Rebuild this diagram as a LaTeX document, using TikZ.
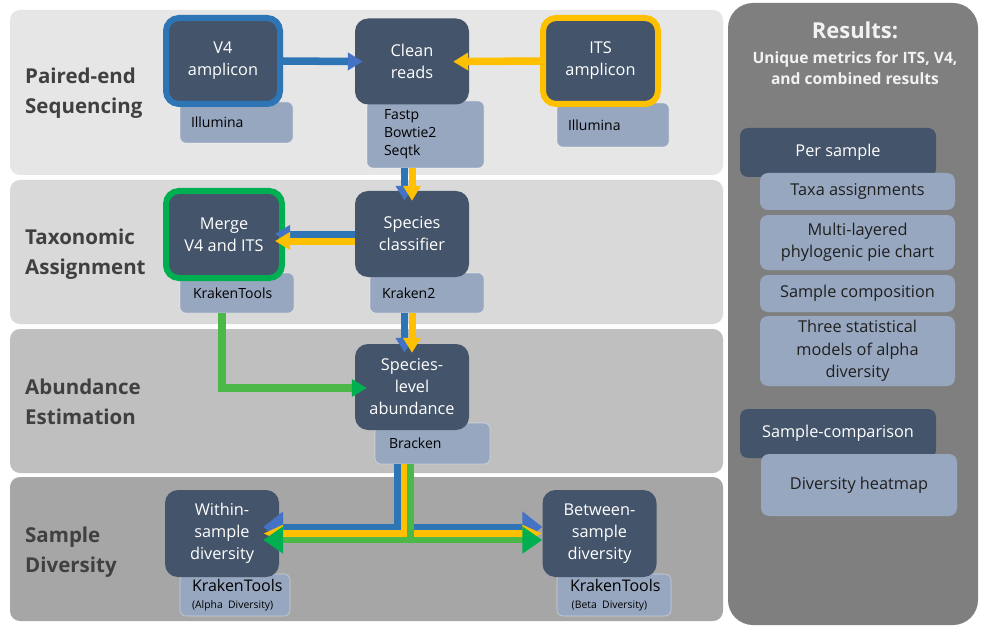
\documentclass[tikz,border=0pt]{standalone}
\usepackage{fontspec}
\setmainfont{Open Sans}
\usetikzlibrary{arrows.meta,calc}
\definecolor{nodedark}{HTML}{44546A}
\definecolor{toolbox}{HTML}{97A7BF}
\definecolor{bandA}{HTML}{E6E6E6}
\definecolor{bandB}{HTML}{D9D9D9}
\definecolor{bandC}{HTML}{BFBFBF}
\definecolor{bandD}{HTML}{A6A6A6}
\definecolor{cblue}{HTML}{2E75B6}
\definecolor{cbluehead}{HTML}{4472C4}
\definecolor{cyellow}{HTML}{FFC000}
\definecolor{cgreen}{HTML}{00B050}
\definecolor{cgreenline}{HTML}{4CB848}
\definecolor{panelgray}{HTML}{7F7F7F}
\definecolor{labeltext}{HTML}{404040}
\definecolor{titletext}{HTML}{F2F2F2}
\definecolor{boxtext}{HTML}{1F1F1F}
\begin{document}
\begin{tikzpicture}[x=1pt,y=-1pt,line join=miter,
  band/.style={fill=#1,draw=none,rounded corners=10pt},
  stage/.style={anchor=west,align=left,font=\bfseries\fontsize{20.5}{30}\selectfont,text=labeltext,inner sep=0pt},
  proc/.style={fill=nodedark,rounded corners=13pt,text=white,align=center,font=\fontsize{16.3}{22}\selectfont,inner sep=0pt,minimum width=114pt,minimum height=86pt},
  tool/.style={fill=toolbox,draw=white,draw opacity=0.45,line width=0.6pt,rounded corners=6pt,align=left,font=\fontsize{14}{18}\selectfont,inner ysep=0pt,text=black},
  resdark/.style={fill=nodedark,rounded corners=8pt,text=white,align=center,font=\fontsize{16.3}{22.5}\selectfont,inner sep=0pt,minimum width=196pt},
  reslight/.style={fill=toolbox,rounded corners=8pt,text=boxtext,align=center,font=\fontsize{16.3}{22.5}\selectfont,inner sep=0pt,minimum width=195pt},
  ablue/.style={draw=cblue,line width=7.5pt,-{Triangle[length=15pt,width=17pt,color=cbluehead]}},
  ayellow/.style={draw=cyellow,line width=7.5pt,-{Triangle[length=15pt,width=17pt,color=cyellow]}},
  agreen/.style={draw=cgreenline,line width=7.5pt,-{Triangle[length=15pt,width=17pt,color=cgreen]}},
  tblue/.style={draw=cblue,line width=6.5pt,-{Triangle[length=20pt,width=30pt,color=cbluehead]}},
  tyellow/.style={draw=cyellow,line width=6.5pt,-{Triangle[length=20pt,width=16pt,color=cyellow]}},
  tgreen/.style={draw=cgreenline,line width=6.5pt,-{Triangle[length=20pt,width=26pt,color=cgreen]}}
]
\useasboundingbox (0,0) rectangle (990,631);
\fill[white] (0,0) rectangle (990,631);

% bands
\path[band=bandA] (10,10) rectangle (723,175);
\path[band=bandB] (10,180) rectangle (723,324);
\path[band=bandC] (10,329) rectangle (723,473);
\path[band=bandD] (10,477) rectangle (723,621);

\node[stage] (lab1) at (25,93) {Paired-end\\Sequencing};
\node[stage] (lab2) at (25,254) {Taxonomic\\Assignment};
\node[stage] (lab3) at (25,402) {Abundance\\Estimation};
\node[stage] (lab4) at (25,552) {Sample\\Diversity};

% tool boxes
\node[tool,text width=91pt,inner xsep=11pt,minimum height=41pt] (illum1) at (236.5,122.5) {Illumina};
\node[tool,text width=83pt,inner xsep=17pt,minimum height=67pt] (cleantools) at (425.5,134.5) {Fastp\\Bowtie2\\Seqtk};
\node[tool,text width=90pt,inner xsep=11pt,minimum height=44pt] (illum2) at (613,125) {Illumina};
\node[tool,text width=88pt,inner xsep=13pt,minimum height=40pt] (mergetools) at (237,293) {KrakenTools};
\node[tool,text width=90pt,inner xsep=12pt,minimum height=40pt] (kraken2) at (427,293) {Kraken2};
\node[tool,text width=87pt,inner xsep=14pt,minimum height=41pt] (bracken) at (432.5,443.5) {Bracken};
\node[tool,text width=86pt,inner xsep=12pt,minimum height=42pt,font=\fontsize{16}{17}\selectfont] (alpha) at (235,595) {KrakenTools\\{\fontsize{10.4}{12}\selectfont(Alpha Diversity)}};
\node[tool,text width=88pt,inner xsep=13pt,minimum height=42pt,font=\fontsize{16}{17}\selectfont] (beta) at (614,595) {KrakenTools\\{\fontsize{10.4}{12}\selectfont\,(Beta Diversity)}};

% process nodes
\node[proc,draw=cblue,line width=6pt,minimum width=114pt,minimum height=86pt] (v4) at (223,61) {V4\\amplicon};
\node[proc] (clean) at (412,61.5) {Clean\\reads};
\node[proc,draw=cyellow,line width=6pt,minimum width=115pt,minimum height=86pt] (its) at (600.5,61) {ITS\\amplicon};
\node[proc,draw=cgreen,line width=6pt,minimum width=116pt,minimum height=87pt] (merge) at (224,234.5) {Merge\\V4 and ITS};
\node[proc] (classifier) at (412,234) {Species\\classifier};
\node[proc] (abundance) at (412,387) {Species-\\level\\abundance};
\node[proc,minimum height=87pt] (within) at (222,533.5) {Within-\\sample\\diversity};
\node[proc,minimum height=87pt] (between) at (599.5,533.5) {Between-\\sample\\diversity};

% arrows, top row
\draw[ablue,shorten >=-8pt] (v4.east) -- (clean.west);
\draw[ayellow,shorten >=-16pt] (its.west) -- (clean.east);

% clean -> classifier
\coordinate (cb) at ([xshift=-7.5pt]classifier.north);
\coordinate (cy) at (classifier.north);
\draw[ablue,line width=7pt,shorten >=-10pt] (cb |- cleantools.south) -- (cb);
\draw[ayellow,line width=7pt,shorten >=-10pt] (cy |- cleantools.south) -- (cy);

% classifier -> merge
\coordinate (mb) at (classifier.west);
\coordinate (my) at ([yshift=-7pt]classifier.west);
\draw[ablue,line width=7pt,shorten >=-10pt] (mb) -- (mb -| merge.east);
\draw[ayellow,line width=7pt,shorten >=-10pt] (my) -- (my -| merge.east);

% kraken2 -> abundance
\draw[ablue,line width=7pt,shorten >=-9pt] (cb |- kraken2.south) -- (cb |- abundance.north);
\draw[ayellow,line width=7pt,shorten >=-9pt] (cy |- kraken2.south) -- (cy |- abundance.north);

% merge tools -> abundance
\coordinate (gc) at (222,388);
\draw[agreen,shorten >=-12pt] (gc |- mergetools.south) -- (gc) -- (gc -| abundance.west);

% abundance (bracken) -> diversity
\coordinate (tb) at (397.5,527);
\coordinate (ty) at (404,533.5);
\coordinate (tg) at (410.5,540);
\draw[tblue,shorten >=-16pt] (tb |- bracken.south) -- (tb) -- (tb -| within.east);
\draw[tblue] (tb) -- (tb -| between.west);
\draw[tyellow,shorten >=-16pt] (ty |- bracken.south) -- (ty) -- (ty -| within.east);
\draw[tyellow] (ty) -- (ty -| between.west);
\draw[tgreen,shorten >=-16pt] (tg |- bracken.south) -- (tg) -- (tg -| within.east);
\draw[tgreen] (tg) -- (tg -| between.west);

% results panel
\node[fill=panelgray,rounded corners=25pt,minimum width=250pt,minimum height=622pt,inner sep=0pt] (panel) at (853,314) {};
\node[font=\bfseries\fontsize{22}{26}\selectfont,text=titletext,inner sep=0pt] (restitle) at (855,30) {Results:};
\node[font=\bfseries\fontsize{15.6}{21}\selectfont,text=titletext,align=center,inner sep=0pt] (ressub) at (855,68) {Unique metrics for ITS, V4,\\and combined results};

\node[resdark,minimum height=49pt] (persample) at (838,152.5) {Per sample};
\node[reslight,minimum height=37pt] (taxa) at (857.5,191.5) {Taxa assignments};
\node[reslight,minimum height=55pt] (multi) at (857.5,242.5) {Multi-layered\\phylogenic pie chart};
\node[reslight,minimum height=37pt] (comp) at (857.5,293.5) {Sample composition};
\node[reslight,minimum height=70pt] (three) at (857.5,351) {Three statistical\\models of alpha\\diversity};
\node[resdark,minimum height=49pt] (samplecomp) at (838,433.5) {Sample-comparison};
\node[reslight,minimum width=196pt,minimum height=62pt] (heatmap) at (859,485) {Diversity heatmap};
\end{tikzpicture}
\end{document}
